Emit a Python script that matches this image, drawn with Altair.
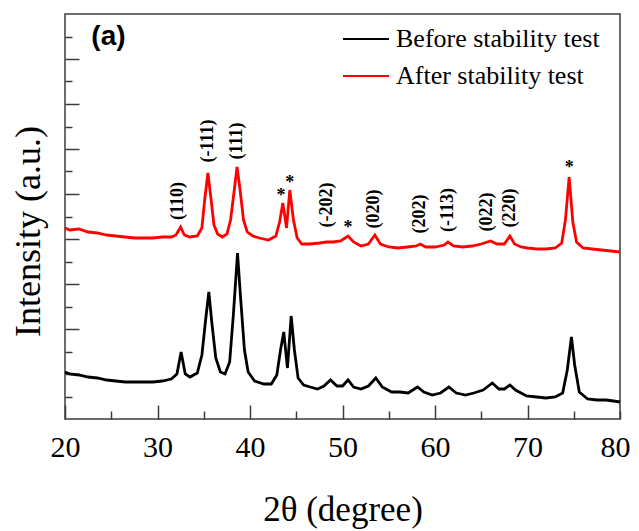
import altair as alt
import pandas as pd

SERIF = "Liberation Serif"
SANS = "Liberation Sans"

# ---- XRD patterns (2theta in degree, intensity in a.u.) ----
two_theta_after = [20.0, 20.5, 21.5, 22.5, 23.5, 24.5, 25.5, 26.5, 27.5, 28.5, 29.5, 30.5, 31.5, 32.0,
                   32.5, 32.9, 33.5, 34.3, 34.8, 35.1, 35.45, 35.8, 36.1, 36.5, 37.0, 37.5, 37.9, 38.3,
                   38.6, 38.9, 39.3, 39.7, 40.3, 41.0, 42.0, 42.8, 43.2, 43.55, 43.95, 44.3, 44.7, 45.1,
                   45.6, 46.5, 47.5, 48.3, 49.0, 49.8, 50.6, 51.2, 52.0, 52.8, 53.5, 54.1, 55.0, 56.0,
                   57.0, 58.0, 58.4, 59.0, 60.0, 61.0, 61.4, 62.0, 63.0, 64.0, 65.0, 66.0, 66.7, 67.5,
                   68.1, 68.6, 69.3, 70.0, 71.0, 72.0, 73.0, 73.7, 74.1, 74.5, 74.9, 75.3, 76.0, 77.0,
                   78.0, 79.0, 80.0]
intensity_after = [1910, 1890, 1900, 1870, 1860, 1840, 1830, 1820, 1810, 1810, 1810, 1820, 1820, 1840,
                   1920, 1840, 1820, 1830, 1910, 2190, 2460, 2190, 1940, 1850, 1820, 1850, 1990, 2290,
                   2520, 2310, 1990, 1870, 1830, 1810, 1790, 1830, 1970, 2160, 1910, 2290, 1990, 1810,
                   1750, 1750, 1760, 1770, 1770, 1780, 1830, 1770, 1730, 1750, 1840, 1750, 1720, 1710,
                   1720, 1730, 1750, 1720, 1720, 1740, 1770, 1730, 1720, 1730, 1750, 1780, 1750, 1750,
                   1830, 1750, 1720, 1710, 1700, 1700, 1710, 1760, 1990, 2420, 1970, 1770, 1710, 1700,
                   1690, 1680, 1670]

two_theta_before = [20.0, 20.5, 21.5, 22.5, 23.5, 24.5, 25.5, 26.5, 27.5, 28.5, 29.5, 30.5, 31.5, 32.1,
                    32.55, 33.0, 33.5, 34.3, 34.8, 35.2, 35.55, 35.9, 36.3, 36.8, 37.3, 37.8, 38.2, 38.65,
                    39.0, 39.4, 39.8, 40.5, 41.5, 42.3, 42.9, 43.3, 43.65, 44.05, 44.45, 44.8, 45.2, 45.8,
                    46.5, 47.3, 48.0, 48.7, 49.4, 50.0, 50.6, 51.2, 52.0, 52.8, 53.6, 54.3, 55.3, 56.2,
                    57.1, 58.1, 58.8, 59.7, 60.6, 61.5, 62.3, 63.3, 64.2, 65.2, 66.2, 66.9, 67.5, 68.1,
                    68.7, 69.9, 71.0, 72.0, 73.0, 73.8, 74.3, 74.75, 75.1, 75.6, 76.5, 77.5, 78.5, 79.3,
                    80.0]
intensity_before = [470, 450, 440, 420, 410, 390, 380, 370, 370, 370, 370, 380, 400, 450,
                    670, 450, 420, 460, 640, 990, 1270, 940, 610, 470, 450, 570, 1040, 1660,
                    1190, 690, 470, 380, 350, 350, 440, 690, 870, 510, 1030, 690, 410, 340,
                    320, 300, 330, 390, 330, 330, 390, 320, 300, 330, 410, 320, 270, 270,
                    260, 320, 270, 240, 260, 320, 260, 240, 260, 290, 360, 300, 300, 340,
                    290, 230, 220, 210, 220, 260, 490, 820, 540, 270, 200, 190, 190, 180,
                    170]

series_names = ["Before stability test", "After stability test"]
series_colors = ["#000000", "#ff0000"]

# ---- annotations ----
hkl_labels = ["(110)", "(-111)", "(111)", "(-202)", "(020)", "(202)", "(-113)", "(022)", "(220)"]
hkl_x = [32.2, 35.43, 38.56, 48.3, 53.4, 58.4, 61.4, 65.6, 68.1]
hkl_y = [2180, 2780, 2780, 2140, 2100, 2050, 2090, 2070, 2110]

star_x = [43.35, 44.3, 50.6, 74.5]
star_y = [2230, 2360, 1910, 2510]

panel_label = ["(a)"]
panel_x = [24.7]
panel_y = [3820]

# ---- axis ticks ----
x_major_ticks = [20, 30, 40, 50, 60, 70]
x_minor_ticks = [25, 35, 45, 55, 65, 75, 80]
y_major_ticks = [450, 900, 1350, 1800, 2250, 2700, 3150, 3600]
y_minor_ticks = [225, 675, 1125, 1575, 2025, 2475, 2925, 3375, 3825]

x_domain = [20, 80]
y_domain = [0, 4050]

df_lines = pd.concat([
    pd.DataFrame({"two_theta": two_theta_before, "intensity": intensity_before, "series": series_names[0]}),
    pd.DataFrame({"two_theta": two_theta_after, "intensity": intensity_after, "series": series_names[1]}),
])
df_hkl = pd.DataFrame({"x": hkl_x, "y": hkl_y, "label": hkl_labels})
df_star = pd.DataFrame({"x": star_x, "y": star_y, "label": ["*"] * len(star_x)})
df_panel = pd.DataFrame({"x": panel_x, "y": panel_y, "label": panel_label})

TICK = "#3c3c3c"
xs = alt.Scale(domain=x_domain, nice=False, zero=False)
ys = alt.Scale(domain=y_domain, nice=False, zero=False)

lines = alt.Chart(df_lines).mark_line(strokeWidth=2.8).encode(
    x=alt.X("two_theta:Q", scale=xs, axis=alt.Axis(
        orient="bottom", values=x_major_ticks, tickSize=14, offset=-14, domain=False, grid=False,
        tickColor=TICK, tickWidth=1.5, labelFont=SERIF, labelFontSize=30, labelColor="black",
        labelPadding=13, labelFlush=False, labelOverlap=False,
        title="2θ (degree)", titleFont=SERIF, titleFontSize=35, titleFontWeight="normal",
        titleColor="black", titleBaseline="middle", titleY=104)),
    y=alt.Y("intensity:Q", scale=ys, axis=alt.Axis(
        orient="left", values=y_major_ticks, tickSize=14, offset=-14, domain=False, grid=False,
        tickColor=TICK, tickWidth=1.5, labels=False,
        title="Intensity (a.u.)", titleFont=SERIF, titleFontSize=36, titleFontWeight="normal",
        titleColor="black", titleBaseline="middle", titleX=-51, titleY=217)),
    color=alt.Color("series:N", scale=alt.Scale(domain=series_names, range=series_colors),
                    legend=alt.Legend(orient="none", legendX=277, legendY=1, title=None,
                                      symbolType="stroke", symbolSize=2116, symbolStrokeWidth=2,
                                      labelFont=SERIF, labelFontSize=26, labelColor="black",
                                      labelOffset=6, labelLimit=400, rowPadding=-3)),
)

hkl = alt.Chart(df_hkl).mark_text(angle=270, font=SERIF, fontSize=18, fontWeight="bold",
                                  color="black", align="center", baseline="middle").encode(
    x=alt.X("x:Q", scale=xs, axis=alt.Axis(
        orient="bottom", values=x_minor_ticks, tickSize=8, offset=-8, domain=False, grid=False,
        tickColor=TICK, tickWidth=1.5, labelFont=SERIF, labelFontSize=30, labelColor="black",
        labelPadding=13, labelFlush=True, labelFlushOffset=10, labelOverlap=False,
        labelExpr="datum.value == 80 ? '80' : ''", title=None)),
    y=alt.Y("y:Q", scale=ys, axis=alt.Axis(
        orient="left", values=y_minor_ticks, tickSize=7, offset=-7, domain=False, grid=False,
        tickColor=TICK, tickWidth=1.5, labels=False, title=None)),
    text="label:N",
)

stars = alt.Chart(df_star).mark_text(font=SERIF, fontSize=18, fontWeight="bold", color="black",
                                     align="center", baseline="middle").encode(
    x=alt.X("x:Q", scale=xs, axis=None),
    y=alt.Y("y:Q", scale=ys, axis=None),
    text="label:N",
)

panel = alt.Chart(df_panel).mark_text(font=SANS, fontSize=28, fontWeight="bold", color="black",
                                      align="center", baseline="middle").encode(
    x=alt.X("x:Q", scale=xs, axis=None),
    y=alt.Y("y:Q", scale=ys, axis=None),
    text="label:N",
)

chart = alt.layer(lines, hkl, stars, panel).resolve_axis(
    x="independent", y="independent"
).properties(
    width=555, height=405,
    autosize=alt.AutoSizeParams(type="none"),
    padding={"left": 57, "top": 6, "right": 11, "bottom": 110},
    background="white",
).configure_view(stroke=TICK, strokeWidth=1.5)

chart.save("out.html", embed_options={"renderer": "svg", "actions": False})
